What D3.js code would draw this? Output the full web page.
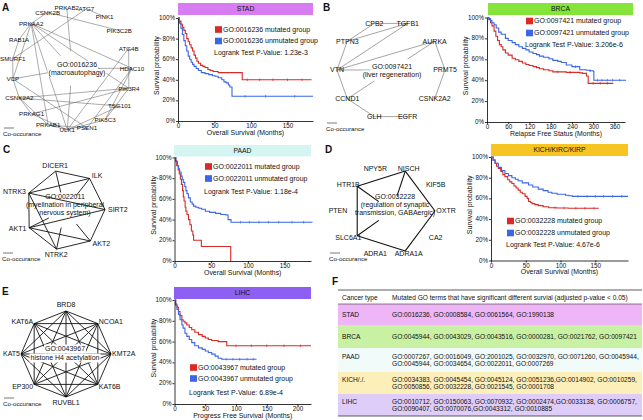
<!DOCTYPE html>
<html><head><meta charset="utf-8">
<script src="https://cdn.jsdelivr.net/npm/d3@7/dist/d3.min.js"></script>
<style>
html,body{margin:0;padding:0;background:#fff;}
svg{display:block;}
text{font-family:"Liberation Sans",Arial,Helvetica,sans-serif;fill:#111;}
</style></head><body>
<svg id="fig" width="643" height="420"></svg>
<script>
// ================= DATA =================
const pctTicks=[0,20,40,60,80,100];
const stadTicks=[0,50,100,150];
const brcaTicks=[0,60,120,180,240,300,360];
const paadTicks=[0,50,100,150];
const kichTicks=[0,50,100,150];
const lihcTicks=[0,50,100,150,200];

const cancerTypes=["STAD","BRCA","PAAD","KICH/KIRC/KIRP","LIHC"];
const goTerms=["GO:0016236","GO:0097421","GO:0022011","GO:0032228","GO:0043967"];
const pValues=["1.23e-3","3.206e-6","1.18e-4","4.67e-6","6.89e-4"];
const xTitles=["Overall Survival (Months)","Relapse Free Status (Months)","Overall Survival (Months)","Overall Survival (Months)","Progress Free Survival (Months)"];

// [month, survival %]
const stadMutated=[[0,100],[2,97],[4,94],[6,91],[8,88],[10,85],[12,80],[14,77],[16,74],[18,71],[20,68],[22,64],[24,61],[26,58],[28,56],[31,54],[34,53],[37,52],[41,50],[44,49],[48,48],[55,47],[88,40],[183,40]];
const stadUnmutated=[[0,100],[2,95],[4,90],[6,84],[8,78],[10,73],[12,68],[14,63],[16,60],[18,57],[20,55],[22,53],[25,51],[28,49],[32,47],[37,46],[42,45],[47,44],[51,43.5],[55,42],[60,40],[63,38],[66,37],[69,35],[71,33],[74,24],[185,24]];
const brcaMutated=[[0,100],[5,98],[10,95],[14,92],[20,87],[25,82],[30,78],[35,74],[40,72],[45,69],[52,66],[60,64],[71,61],[80,59.5],[90,58],[100,56.5],[110,55],[119,54],[130,53],[140,52],[148,51],[160,50],[175,49],[186,48],[224,47.5],[262,47],[270,46.5],[281,44],[286,37],[357,37]];
const brcaUnmutated=[[0,100],[5,99],[10,97],[14,95],[20,93],[26,90],[33,86],[40,84],[52,80],[60,78],[71,76],[80,74],[90,72],[100,70.5],[110,69],[119,67],[130,65.5],[140,64.5],[148,63],[160,62],[175,60.5],[186,59],[200,58],[210,57],[224,54.5],[240,53],[262,50],[280,49.5],[290,49],[300,48.5],[302,40],[393,40]];
const paadMutated=[[0,100],[1.5,97],[3,92],[5,88],[6.5,84],[8,79],[9.5,74],[11,68],[12,62],[13,58],[14.5,52],[15.5,48],[17,45],[19,40],[21,35],[23,29],[25,25],[26,20],[36.6,14],[76.6,0]];
const paadUnmutated=[[0,100],[2,96],[4,92],[5.5,89],[7,86],[9,82],[10.5,79],[12,76],[14,72],[15.5,68],[17,65],[19,61],[21.5,57],[24,55],[26,53],[29,52],[33,51],[37,50],[42,48],[48,47],[56,46],[63,45],[70,44.4],[73,40],[77,37.5],[188,37.5]];
const kichMutated=[[0,100],[3,97],[5.8,94],[8,91],[10.6,89],[14,86],[17,83],[20,81],[24,78],[27,76],[30,74.4],[33,72],[36,70],[39,68],[42,66],[45,64.5],[49,62],[52,60],[54,57],[57,56],[59,55],[63,54],[68,53],[75,52],[83,51],[95,50.7],[111,50.5],[155,50.5]];
const kichUnmutated=[[0,100],[3,97],[6,94],[10.6,90],[15,87],[20,84],[25,82],[30,80],[35,78.5],[39,77],[45,75],[54,73],[60,71],[68,69],[75,67.5],[82,66],[87.5,65],[95,64],[107,63],[112,62.5],[117,62],[197,62]];
const lihcMutated=[[0,100],[2,96],[4,93],[6.5,89],[9,85],[12,81],[14,79.5],[17,78],[20,76],[24,73.5],[28,71.4],[33,69],[39,66.7],[45,65],[50,63.5],[55,62],[60.5,61],[71,60],[85,56],[222,56]];
const lihcUnmutated=[[0,100],[2,95],[4,91],[6.5,86],[9,81],[12,76],[14,73],[17,68],[20,65],[24,62],[28,59],[33,56],[39,54],[45,52.5],[50,51],[55,49.5],[60.5,48],[66,46],[71,44],[77,43],[133.5,43]];
// censored observations (months)
const stadMutatedCensor=[95,112,130,150,170];
const stadUnmutatedCensor=[92,120,160];
const brcaMutatedCensor=[200,235,300,320,340];
const brcaUnmutatedCensor=[250,292,312,325,340,355,375];
const paadUnmutatedCensor=[90,102,115,128,142,160,176];
const kichMutatedCensor=[92,105,122,135,148];
const kichUnmutatedCensor=[125,138,150,162,175,188];
const lihcMutatedCensor=[100,125,150,178,205];
const lihcUnmutatedCensor=[84,95,106,118,128];

// networks
const netANodes=["PRKAB2","ATG7","PINK1","PIK3C2B","ATG4B","HDAC10","PIK3R4","TSG101","PIK3C3","PSEN1","ULK1","PRKAB1","PRKAG1","CSNK2A2","VCP","SMURF1","RAB1A","PRKAA2","CSNK2B"];
const netAEdges=[["PRKAA2","RAB1A"],["PRKAA2","CSNK2B"],["PRKAA2","GO"],["PRKAA2","HDAC10"],["PRKAA2","PIK3R4"],["PRKAA2","ULK1"],["PRKAA2","VCP"],["PRKAA2","PRKAB1"],
["CSNK2B","PIK3C2B"],["ATG7","SMURF1"],["ATG7","PINK1"],["PRKAB2","GO"],["ATG4B","PIK3R4"],["ATG4B","ULK1"],["HDAC10","GO"],["HDAC10","PSEN1"],["HDAC10","PIK3C3"],
["PIK3R4","PIK3C3"],["PIK3R4","CSNK2A2"],["PIK3R4","PRKAG1"],["TSG101","CSNK2A2"],["TSG101","ULK1"],["PIK3C3","ULK1"],["PSEN1","VCP"],["PSEN1","PRKAB1"],
["ULK1","PRKAB1"],["ULK1","GO"],["PRKAB1","CSNK2A2"],["PRKAG1","CSNK2A2"],["CSNK2A2","VCP"],["VCP","SMURF1"],["SMURF1","RAB1A"],["VCP","GO"],["PRKAG1","ULK1"]];
const netBNodes=["CPB2","TGFB1","AURKA","PRMT5","CSNK2A2","EGFR","GLH","CCND1","VTN","PTPN3"];
const netBEdges=[["CPB2","TGFB1"],["PTPN3","TGFB1"],["PTPN3","CPB2"],["PTPN3","VTN"],["VTN","TGFB1"],["VTN","AURKA"],["VTN","GO"],["AURKA","GO"],["AURKA","PRMT5"],["PRMT5","CSNK2A2"],["VTN","CCND1"],["CCND1","GO"],["CCND1","GLH"],["GLH","EGFR"]];
const netCNodes=["DICER1","ILK","SIRT2","AKT2","NTRK2","AKT1","NTRK3"];
const netCEdges=[["DICER1","ILK"],["DICER1","NTRK3"],["DICER1","GO"],["ILK","NTRK3"],["ILK","SIRT2"],["ILK","GO"],["NTRK3","AKT1"],["NTRK3","NTRK2"],["NTRK3","SIRT2"],["AKT1","SIRT2"],["AKT1","AKT2"],["AKT1","NTRK2"],["AKT1","GO"],["SIRT2","AKT2"],["NTRK2","AKT2"],["NTRK2","GO"],["AKT2","GO"]];
const netDNodes=["NPY5R","NISCH","KIF5B","OXTR","CA2","ADRA1A","ADRA1","SLC6A1","PTEN","HTR1B"];
const netDEdges=[["HTR1B","NISCH"],["HTR1B","GO"],["HTR1B","SLC6A1"],["NISCH","GO"],["NISCH","OXTR"],["OXTR","ADRA1A"],["SLC6A1","ADRA1A"],["SLC6A1","GO"]];
const netENodes=["BRD8","NCOA1","KMT2A","KAT6B","RUVBL1","EP300","KAT5","KAT6A"];
const netEEdges=d3.merge(netENodes.map((a,i)=>netENodes.slice(i+1).map(b=>[a,b])));
const netTitles=[["GO:0016236","(macroautophagy)"],["GO:0097421","(liver regeneration)"],["GO:0022011","(myelination in peripheral","nervous system)"],["GO:0032228","(regulation of synaptic","transmission, GABAergic)"],["GO:0043967","histone H4 acetylation"]];

// table
const tableHeader=["Cancer type","Mutated GO terms that have significant different survial (adjusted p-value < 0.05)"];
const tableTypes=["STAD","BRCA","PAAD","KICH/./.","LIHC"];
const tableTerms=[
 ["GO:0016236, GO:0008584, GO:0061564, GO:1990138"],
 ["GO:0045944, GO:0043029, GO:0043516, GO:0000281, GO:0021762, GO:0097421"],
 ["GO:0007267, GO:0016049, GO:2001025, GO:0032970, GO:0071260, GO:0045944,","GO:0045944, GO:0034654, GO:0022011, GO:0007269"],
 ["GO:0034383, GO:0045454, GO:0045124, GO:0051236,GO:0014902, GO:0010259,","GO:0050856, GO:0032228, GO:0021545, GO:0001708"],
 ["GO:0010712, GO:0150063, GO:0070932, GO:0002474,GO:0033138, GO:0006757,","GO:0090407, GO:0070076,GO:0043312, GO:0010885"]];

// ================= DRAW =================
const svg=d3.select("#fig");
const RED="#d92a26", BLUE="#3b66e6";

function stepValue(data,m){let v=data[0][1];for(const d of data){if(d[0]<=m)v=d[1];else break;}return v;}

function drawKM(c){
  const g=svg.append("g");
  const x=d3.scaleLinear().domain([0,c.xMax]).range([c.x0,c.x1]);
  const y=d3.scaleLinear().domain([0,100]).range([c.yB,c.yT]);
  g.append("rect").attr("x",c.bar[0]).attr("y",c.bar[2]).attr("width",c.bar[1]-c.bar[0]).attr("height",c.bar[3]-c.bar[2]).attr("fill",c.barColor);
  g.append("text").attr("x",(c.bar[0]+c.bar[1])/2).attr("y",(c.bar[2]+c.bar[3])/2+2.4).attr("text-anchor","middle").attr("font-size",6.8).text(c.title);
  const line=d3.line().x(d=>x(d[0])).y(d=>y(d[1])).curve(d3.curveStepAfter);
  c.series.forEach(s=>{
    g.append("path").attr("d",line(s.data)).attr("fill","none").attr("stroke",s.color).attr("stroke-width",1.1);
    (s.censor||[]).forEach(m=>{const v=stepValue(s.data,m);
      g.append("line").attr("x1",x(m)).attr("x2",x(m)).attr("y1",y(v)-1.3).attr("y2",y(v)+1.3).attr("stroke",s.color).attr("stroke-width",0.7);});
  });
  const xa=g.append("g").attr("transform",`translate(0,${c.yB})`).call(d3.axisBottom(x).tickValues(c.ticks).tickSize(2).tickPadding(0.8).tickSizeOuter(0));
  const ya=g.append("g").attr("transform",`translate(${c.x0},0)`).call(d3.axisLeft(y).tickValues(pctTicks).tickFormat(d=>d+"%").tickSize(2).tickPadding(1).tickSizeOuter(0));
  [xa,ya].forEach(a=>{a.attr("font-family",null).attr("font-size",null);
    a.selectAll("text").attr("font-size",6.3);
    a.selectAll("path,line").attr("stroke","#000").attr("stroke-width",0.8);});
  ya.selectAll(".tick text").attr("dy","0.25em");
  g.append("text").attr("x",(c.x0+c.x1)/2).attr("y",c.yB+13.6).attr("text-anchor","middle").attr("font-size",6.9).text(c.xTitle);
  g.append("text").attr("transform",`translate(${c.x0-c.yLabDx},${(c.yT+c.yB)/2-4}) rotate(-90)`).attr("text-anchor","middle").attr("font-size",7).text("Survival probability");
  c.series.forEach((s,i)=>{
    const ly=c.legY[i];
    g.append("rect").attr("x",c.legX).attr("y",ly-3.3).attr("width",7).attr("height",6.6).attr("fill",s.color);
    g.append("text").attr("x",c.legX+8).attr("y",ly+2.4).attr("font-size",7).text(s.label);
  });
  g.append("text").attr("x",c.legX-1).attr("y",c.pY+2.4).attr("font-size",7).text("Logrank Test P-Value: "+c.p);
}

function kmCfg(i,extra){
  return Object.assign({title:cancerTypes[i],xTitle:xTitles[i],p:pValues[i]},extra);
}
const series=(i,m,u,mc,uc)=>[{data:m,censor:mc,color:RED,label:goTerms[i]+" mutated group"},{data:u,censor:uc,color:BLUE,label:goTerms[i]+" unmutated group"}];

drawKM(kmCfg(0,{x0:178,x1:313,xMax:185,yT:18,yB:121,ticks:stadTicks,bar:[178,313,3,15],barColor:"#d77df1",series:series(0,stadMutated,stadUnmutated,stadMutatedCensor,stadUnmutatedCensor),legX:215,legY:[29.5,41],pY:53,yLabDx:19}));
drawKM(kmCfg(1,{x0:487,x1:625,xMax:390,yT:17.5,yB:122,ticks:brcaTicks,bar:[488,633,3,15],barColor:"#84e43a",series:series(1,brcaMutated,brcaUnmutated,brcaMutatedCensor,brcaUnmutatedCensor),legX:526,legY:[21,33],pY:45,yLabDx:19}));
drawKM(kmCfg(2,{x0:174.5,x1:311,xMax:186,yT:157.5,yB:261,ticks:paadTicks,bar:[174,311,145,156.5],barColor:"#d4f5f1",series:series(2,paadMutated,paadUnmutated,[],paadUnmutatedCensor),legX:205,legY:[166.5,178.5],pY:192,yLabDx:19}));
drawKM(kmCfg(3,{x0:491,x1:628,xMax:197,yT:157,yB:260.5,ticks:kichTicks,bar:[491,628,144,156],barColor:"#f6c521",series:series(3,kichMutated,kichUnmutated,kichMutatedCensor,kichUnmutatedCensor),legX:507,legY:[221,233],pY:245,yLabDx:19}));
drawKM(kmCfg(4,{x0:174.5,x1:311,xMax:222,yT:300,yB:404,ticks:lihcTicks,bar:[174,311,287,299],barColor:"#8d60f3",series:series(4,lihcMutated,lihcUnmutated,lihcMutatedCensor,lihcUnmutatedCensor),legX:190,legY:[367.5,378.5],pY:393,yLabDx:19}));

function drawNet(c){
  const g=svg.append("g");
  const n=c.nodes.length;
  const ang=d3.scaleLinear().domain([0,n]).range([c.start,c.start+360]);
  const P={};
  c.nodes.forEach((nm,i)=>{const a=ang(i)*Math.PI/180;P[nm]={x:c.cx+c.rx*Math.cos(a),y:c.cy+c.ry*Math.sin(a),cos:Math.cos(a),sin:Math.sin(a)};});
  const GO={x:c.cx,y:c.cy};
  c.edges.forEach(([s,t])=>{
    const A=P[s];let x2,y2;
    if(t==="GO"){x2=A.x+(GO.x-A.x)*c.goFrac;y2=A.y+(GO.y-A.y)*c.goFrac;}else{x2=P[t].x;y2=P[t].y;}
    g.append("line").attr("x1",A.x).attr("y1",A.y).attr("x2",x2).attr("y2",y2).attr("stroke",c.edgeColor).attr("stroke-width",c.edgeW);
  });
  c.title.forEach((t,i)=>{
    const ty=c.ty+i*c.lineH;
    const tx=g.append("text").attr("x",c.tx).attr("y",ty+2.4).attr("text-anchor","middle").attr("font-size",c.tfs).text(t);
    if(c.box){const w=tx.node().getComputedTextLength();
      g.insert("rect","text").attr("x",c.tx-w/2-1).attr("y",ty-c.lineH/2).attr("width",w+2).attr("height",c.lineH).attr("fill","#fff");}
  });
  c.nodes.forEach(nm=>{
    const p=P[nm];let lx,ly,anc="middle";
    if(c.labMode==="center"){lx=c.cx+c.lrx*p.cos;ly=c.cy+c.lry*p.sin;}
    else{
      if(p.cos>0.35){anc="start";lx=c.cx+c.lrx*p.cos+1;ly=c.cy+c.lry*p.sin+p.sin*2;}
      else if(p.cos<-0.35){anc="end";lx=c.cx+c.lrx*p.cos-1;ly=c.cy+c.lry*p.sin+p.sin*2;}
      else{lx=c.cx+c.lrx*p.cos;ly=c.cy+c.lry*p.sin+p.sin*5;}
    }
    g.append("text").attr("x",lx).attr("y",ly+2.4).attr("text-anchor",anc).attr("font-size",c.fs).text(nm);
  });
  g.append("line").attr("x1",c.leg[0]).attr("x2",c.leg[0]+10).attr("y1",c.leg[1]).attr("y2",c.leg[1]).attr("stroke","#555").attr("stroke-width",0.8);
  g.append("text").attr("x",c.leg[0]-1).attr("y",c.leg[1]+8).attr("font-size",6.2).text("Co-occurance");
}

drawNet({nodes:netANodes,edges:netAEdges,cx:72,cy:68.5,rx:60,ry:61.5,start:-95,goFrac:0.72,edgeColor:"#666",edgeW:0.55,
  title:netTitles[0],tx:77,ty:65,lineH:8,tfs:7,box:true,labMode:"center",lrx:60,lry:61.5,fs:6.2,leg:[4,128]});
drawNet({nodes:netBNodes,edges:netBEdges,cx:391,cy:70,rx:54,ry:49,start:-108,goFrac:0.62,edgeColor:"#666",edgeW:0.6,
  title:netTitles[1],tx:392,ty:66.5,lineH:8,tfs:7,box:true,labMode:"center",lrx:54,lry:49,fs:7,leg:[327,123]});
drawNet({nodes:netCNodes,edges:netCEdges,cx:65,cy:210,rx:40,ry:40,start:-103.5,goFrac:0.55,edgeColor:"#111",edgeW:0.9,
  title:netTitles[2],tx:65,ty:197,lineH:8,tfs:7,box:false,labMode:"side",lrx:42,lry:41,fs:7,leg:[3,253]});
drawNet({nodes:netDNodes,edges:netDEdges,cx:392,cy:211,rx:43,ry:42,start:-108,goFrac:0.62,edgeColor:"#111",edgeW:1.1,
  title:netTitles[3],tx:395,ty:197,lineH:8,tfs:7,box:false,labMode:"center",lrx:54,lry:45,fs:7,leg:[330,253]});
drawNet({nodes:netENodes,edges:netEEdges,cx:66,cy:354,rx:45,ry:43,start:-90,goFrac:0.6,edgeColor:"#111",edgeW:0.9,
  title:netTitles[4],tx:65,ty:349,lineH:9,tfs:7,box:true,labMode:"side",lrx:45,lry:44,fs:7,leg:[4,398]});

[["A",2,11],["B",323,11],["C",3,153],["D",325,153],["E",2,295],["F",332,285]].forEach(([t,x,y])=>{
  svg.append("text").attr("x",x).attr("y",y).attr("font-size",10).attr("font-weight","bold").text(t);
});

(function(){
  const g=svg.append("g");
  const x0=338,x1=642,c1=342,c2=392;
  const rowTop=[304,325,348,372,394], rowBot=[325,348,372,394,416];
  const rowColors=["#efb6f7","#c9f1a3","#f1fbfa","#fcefb9","#ddcdf8"];
  tableTypes.forEach((t,i)=>{
    g.append("rect").attr("x",x0).attr("y",rowTop[i]).attr("width",x1-x0).attr("height",rowBot[i]-rowTop[i]).attr("fill",rowColors[i]);
    const lines=tableTerms[i];
    const mid=(rowTop[i]+rowBot[i])/2;
    const y0=mid-(lines.length-1)*3.4;
    g.append("text").attr("x",c1).attr("y",(lines.length>1?y0:mid)+2.3).attr("font-size",6.6).text(t);
    lines.forEach((l,j)=>g.append("text").attr("x",c2).attr("y",y0+j*6.8+2.3).attr("font-size",6.6).text(l));
  });
  g.append("text").attr("x",c1).attr("y",299.5).attr("font-size",6.6).text(tableHeader[0]);
  g.append("text").attr("x",c2).attr("y",299.5).attr("font-size",6.6).text(tableHeader[1]);
  [[290,0.8],[304,0.6],[416,0.8]].forEach(([yy,w])=>g.append("line").attr("x1",x0).attr("x2",x1).attr("y1",yy).attr("y2",yy).attr("stroke","#333").attr("stroke-width",w));
})();
</script></body></html>
